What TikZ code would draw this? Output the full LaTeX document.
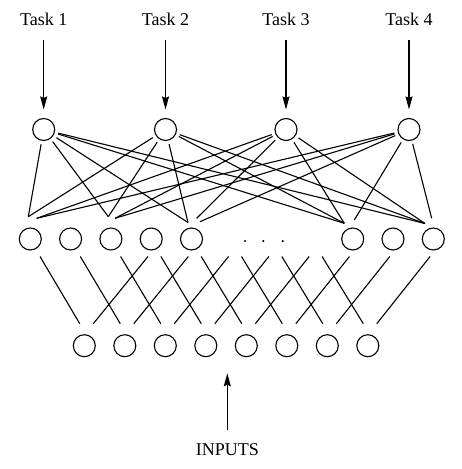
\documentclass[tikz,border=0pt]{standalone}
\usepackage{fontspec}
\setmainfont{Liberation Serif}
\usetikzlibrary{arrows.meta}
\begin{document}
\begin{tikzpicture}[x=1pt,y=-1pt,
  unit/.style={circle,draw,line width=1.1pt,minimum size=22pt,inner sep=0pt},
  link/.style={line width=1.1pt},
  arr/.style={line width=1.1pt,-{Stealth[length=13pt,width=7pt,inset=1.5pt]}},
  lab/.style={inner sep=0pt,font=\fontsize{18}{20}\selectfont},
  dotm/.style={circle,fill,inner sep=0pt,minimum size=2.4pt}]
\path[use as bounding box] (0,0) rectangle (462,469);

% task nodes
\foreach \t/\x in {1/43.7,2/165.5,3/286,4/409}{
  \node[unit] (t\t) at (\x,129.5) {};
  \node[lab,anchor=base] (l\t) at (\x,25) {Task \t};
  \draw[arr,shorten <=15pt,shorten >=8.5pt] (l\t) -- (t\t);
}

% hidden nodes (slots 5-7 replaced by dots)
\foreach \k in {0,1,2,3,4,8,9,10}{
  \node[unit] (h\k) at (30.3+40.3*\k,239) {};
}
\node[dotm] (d1) at (245,241) {};
\node[dotm] (d2) at (263.3,241) {};
\node[dotm] (d3) at (282.7,241) {};

% input nodes
\foreach \j in {0,...,7}{
  \node[unit] (i\j) at (84.3+40.5*\j,345.7) {};
}

% hidden -> input connections
\foreach \j in {0,...,7}{
  \coordinate (da\j) at (30.3+40.3*\j+9.7,256.5);
  \coordinate (db\j) at (84.3+40.5*\j-4.5,323.7);
  \draw[link] (da\j) -- (db\j);
  \coordinate (ua\j) at (84.3+40.5*\j+9,323.7);
  \coordinate (ub\j) at (30.3+40.3*\j+121-3.3,256.5);
  \draw[link] (ua\j) -- (ub\j);
}

% task -> hidden connections
\foreach \t/\k/\x/\y in {
  1/0/28.3/216.7, 2/0/28.3/216.7, 3/0/36.7/218.3, 4/0/36.7/218.3,
  1/2/108.3/216.7, 2/2/108.3/216.7, 3/2/115/218.3, 4/2/115/218.3,
  1/4/188/222.5, 2/4/188/222.5, 3/4/196.7/218.3, 4/4/200/221.7,
  1/8/344.3/223.3, 2/8/344.3/223.3, 3/8/344.3/223.3, 4/8/354.3/220,
  1/10/425/223.5, 2/10/425/223.5, 3/10/425/223.5, 4/10/431.7/218.3}{
  \coordinate (e\t-\k) at (\x,\y);
  \draw[link,shorten <=3.5pt] (t\t) -- (e\t-\k);
}

% inputs label and arrow
\node[lab,anchor=base] (inl) at (227.3,455) {INPUTS};
\coordinate (inp) at (227.3,373.3);
\draw[arr,shorten <=13pt] (inl) -- (inp);
\end{tikzpicture}
\end{document}
